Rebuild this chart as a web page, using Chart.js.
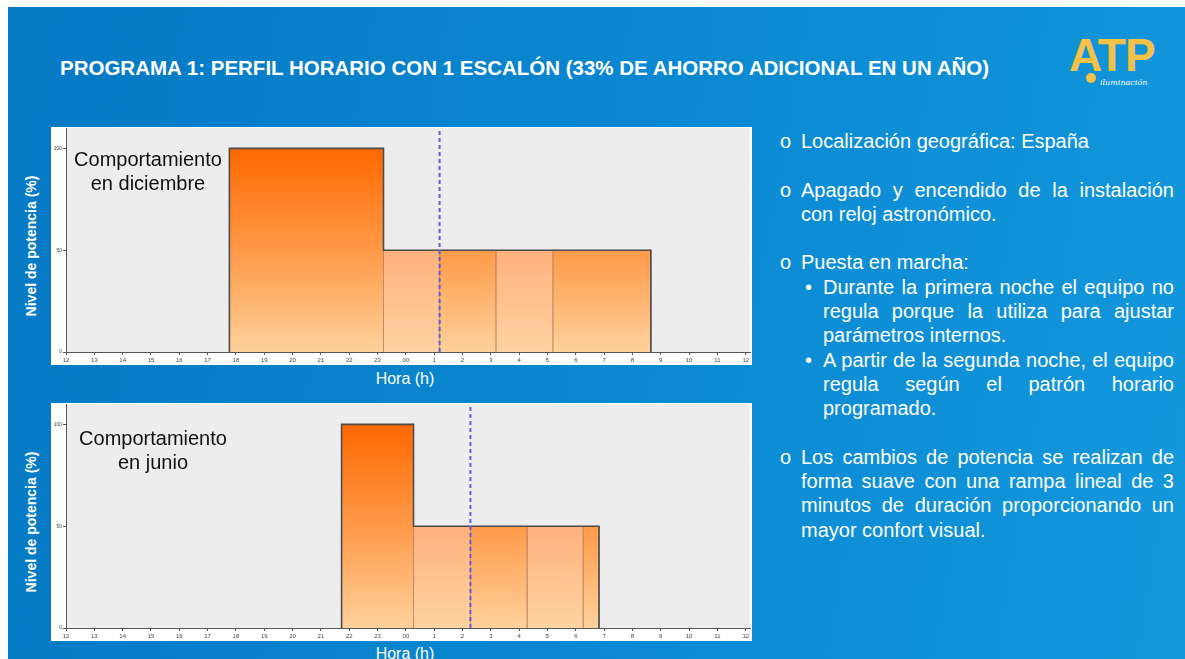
<!DOCTYPE html>
<html lang="es">
<head>
<meta charset="utf-8">
<script src="https://cdn.jsdelivr.net/npm/chart.js@4.4.0/dist/chart.umd.min.js"></script>
<style>
  html, body { margin: 0; padding: 0; background: #fff; }
  body { width: 1185px; height: 659px; position: relative; overflow: hidden; font-family: "Liberation Sans", Arial, sans-serif; }
  .slide {
    position: absolute; left: 8px; top: 7px; width: 1177px; height: 652px;
    background: linear-gradient(100deg, #0679c3 0%, #0986cf 45%, #0f91d8 80%, #1498dc 100%);
  }
  .abs { position: absolute; }
  .title { left: 60px; top: 56px; color: #fff; font-weight: bold; font-size: 20.5px; white-space: nowrap; }
  .panel { position: absolute; background: #fff; }
  .ytitle { color: #fff; font-weight: bold; font-size: 14px; white-space: nowrap; transform: translate(-50%, -50%) rotate(-90deg); }
  .xtitle { color: #fff; font-size: 16px; white-space: nowrap; transform: translate(-50%, -50%); }
  .note { color: #111; font-size: 20px; line-height: 24px; text-align: center; transform: translate(-50%, 0); white-space: nowrap; }
  .logo { left: 1068px; top: 28px; width: 110px; height: 66px; }
  .logo .atp { position: absolute; left: 1px; top: 0; color: #f5c247; font-weight: bold; font-size: 46px; letter-spacing: -1px; }
  .logo .dot { position: absolute; left: 18px; top: 45px; width: 10px; height: 10px; border-radius: 50%; background: #f5c247; }
  .logo .sub { position: absolute; left: 32px; top: 50px; color: #fff; font-style: italic; font-size: 8px; font-family: "DejaVu Serif", serif; }
  .texto { left: 780px; top: 129px; width: 394px; color: #fff; font-size: 20px; line-height: 24.3px; }
  .texto p { margin: 0 0 24.3px 0; position: relative; padding-left: 21px; text-align: justify; }
  .texto p::before { content: "o"; position: absolute; left: 0; top: 0; }
  .texto ul { margin: 0; padding: 0; list-style: none; }
  .texto li { position: relative; padding-left: 43px; text-align: justify; }
  .texto li::before { content: "\2022"; position: absolute; left: 25px; top: 0; }
</style>
</head>
<body>
<div class="slide"></div>

<div class="abs title">PROGRAMA 1: PERFIL HORARIO CON 1 ESCALÓN (33% DE AHORRO ADICIONAL EN UN AÑO)</div>

<div class="abs logo">
  <span class="atp">ATP</span>
  <span class="dot"></span>
  <span class="sub">iluminación</span>
</div>

<div class="panel" style="left:51px; top:127px; width:701px; height:238px;">
  <canvas id="chart-diciembre" width="701" height="238"></canvas>
</div>
<div class="panel" style="left:51px; top:403px; width:701px; height:238px;">
  <canvas id="chart-junio" width="701" height="238"></canvas>
</div>

<div class="abs note" style="left:148px; top:147px;">Comportamiento<br>en diciembre</div>
<div class="abs note" style="left:153px; top:426px;">Comportamiento<br>en junio</div>

<div class="abs ytitle" style="left:31px; top:246px;">Nivel de potencia (%)</div>
<div class="abs ytitle" style="left:31px; top:522px;">Nivel de potencia (%)</div>
<div class="abs xtitle" style="left:405px; top:379px;">Hora (h)</div>
<div class="abs xtitle" style="left:405px; top:654px;">Hora (h)</div>

<div class="abs texto">
  <p>Localización geográfica: España</p>
  <p>Apagado y encendido de la instalación con reloj astronómico.</p>
  <p style="margin-bottom:0">Puesta en marcha:</p>
  <ul style="margin-bottom:24.3px">
    <li>Durante la primera noche el equipo no regula porque la utiliza para ajustar parámetros internos.</li>
    <li>A partir de la segunda noche, el equipo regula según el patrón horario programado.</li>
  </ul>
  <p>Los cambios de potencia se realizan de forma suave con una rampa lineal de 3 minutos de duración proporcionando un mayor confort visual.</p>
</div>

<script>
// etiquetas del eje horario (de 12 h a 12 h del día siguiente)
const horas = ['12', '13', '14', '15', '16', '17', '18', '19', '20', '21', '22', '23',
    '00', '1', '2', '3', '4', '5', '6', '7', '8', '9', '10', '11', '12'];
const nivelTicks = [0, 50, 100];

// horas de cambio (reloj) y nivel de potencia de cada tramo
const diciembreCambios = [17.77, 23.21, 1.19, 3.18, 5.19, 8.65];
const diciembreNivel = [100, 50, 50, 50, 50];
const diciembreMarca = 1.19;

const junioCambios = [21.73, 0.27, 2.28, 4.28, 6.26, 6.82];
const junioNivel = [100, 50, 50, 50, 50];
const junioMarca = 2.28;

const Y_MAX = 110;
const X_MAX = 24.15;

// hora de reloj -> posición en el eje (0 = 12 h)
const eje = (h) => (h + 12) % 24;

const fondoPlot = {
    id: 'fondoPlot',
    beforeDraw(chart) {
        const { ctx, chartArea: a } = chart;
        ctx.save();
        ctx.fillStyle = '#ededed';
        ctx.fillRect(a.left, a.top, a.right - a.left, a.bottom - a.top);
        ctx.restore();
    },
};

function degradado(chart, claro) {
    const y = chart.scales.y;
    if (!chart.chartArea || !y) return claro ? '#ffb17d' : '#ff9a48';
    const y0 = y.getPixelForValue(100);
    const y1 = y.getPixelForValue(0);
    if (!isFinite(y0) || !isFinite(y1)) return claro ? '#ffb17d' : '#ff9a48';
    const g = chart.ctx.createLinearGradient(0, y0, 0, y1);
    if (claro) {
        g.addColorStop(0, '#ff9a60');
        g.addColorStop(0.5, '#ffb17d');
        g.addColorStop(1, '#ffd3a2');
    } else {
        g.addColorStop(0, '#ff6800');
        g.addColorStop(0.5, '#ff9a48');
        g.addColorStop(1, '#ffd19c');
    }
    return g;
}

function crearGrafico(id, cambios, niveles, marca) {
    const xs = cambios.map(eje);
    const datasets = [];

    // línea discontinua
    datasets.push({
        data: [{ x: eje(marca), y: 0 }, { x: eje(marca), y: Y_MAX }],
        borderColor: '#5f5ce0',
        borderWidth: 2,
        borderDash: [4, 3],
        pointRadius: 0,
        fill: false,
        order: 0,
    });

    // contorno del perfil
    const perfil = [{ x: xs[0], y: 0 }];
    niveles.forEach((n, i) => {
        perfil.push({ x: xs[i], y: n });
        perfil.push({ x: xs[i + 1], y: n });
    });
    perfil.push({ x: xs[xs.length - 1], y: 0 });
    datasets.push({
        data: perfil,
        borderColor: '#4d4d4d',
        borderWidth: 1.6,
        pointRadius: 0,
        fill: false,
        order: 1,
    });

    // tramos rellenos
    niveles.forEach((n, i) => {
        const claro = i % 2 === 1;
        datasets.push({
            data: [
                { x: xs[i], y: 0 },
                { x: xs[i], y: n },
                { x: xs[i + 1], y: n },
                { x: xs[i + 1], y: 0 },
            ],
            borderColor: 'rgba(170, 115, 80, 0.3)',
            borderWidth: 1,
            pointRadius: 0,
            fill: 'origin',
            backgroundColor: (c) => degradado(c.chart, claro),
            order: 2,
        });
    });

    new Chart(document.getElementById(id).getContext('2d'), {
        type: 'line',
        data: { datasets },
        options: {
            responsive: false,
            animation: false,
            layout: { padding: { top: 1, right: 2, left: 0, bottom: 0 } },
            plugins: { legend: { display: false }, tooltip: { enabled: false } },
            scales: {
                x: {
                    type: 'linear',
                    min: 0,
                    max: X_MAX,
                    afterBuildTicks: (s) => { s.ticks = horas.map((_, i) => ({ value: i })); },
                    afterFit: (s) => { s.height = 13; s.paddingLeft = 0; s.paddingRight = 0; },
                    ticks: {
                        autoSkip: false,
                        maxRotation: 0,
                        padding: 2,
                        font: { size: 6, family: 'Liberation Sans' },
                        color: '#444',
                        callback: (v) => horas[v],
                    },
                    grid: { drawOnChartArea: false, tickLength: 3, color: '#555' },
                    border: { color: '#555', width: 1 },
                },
                y: {
                    min: 0,
                    max: Y_MAX,
                    afterBuildTicks: (s) => { s.ticks = nivelTicks.map((v) => ({ value: v })); },
                    afterFit: (s) => { s.width = 15; s.paddingTop = 0; s.paddingBottom = 0; },
                    ticks: {
                        padding: 1,
                        font: { size: 5, family: 'Liberation Sans' },
                        color: '#444',
                    },
                    grid: { drawOnChartArea: false, tickLength: 3, color: '#555' },
                    border: { color: '#555', width: 1 },
                },
            },
        },
        plugins: [fondoPlot],
    });
}

crearGrafico('chart-diciembre', diciembreCambios, diciembreNivel, diciembreMarca);
crearGrafico('chart-junio', junioCambios, junioNivel, junioMarca);
</script>
</body>
</html>
